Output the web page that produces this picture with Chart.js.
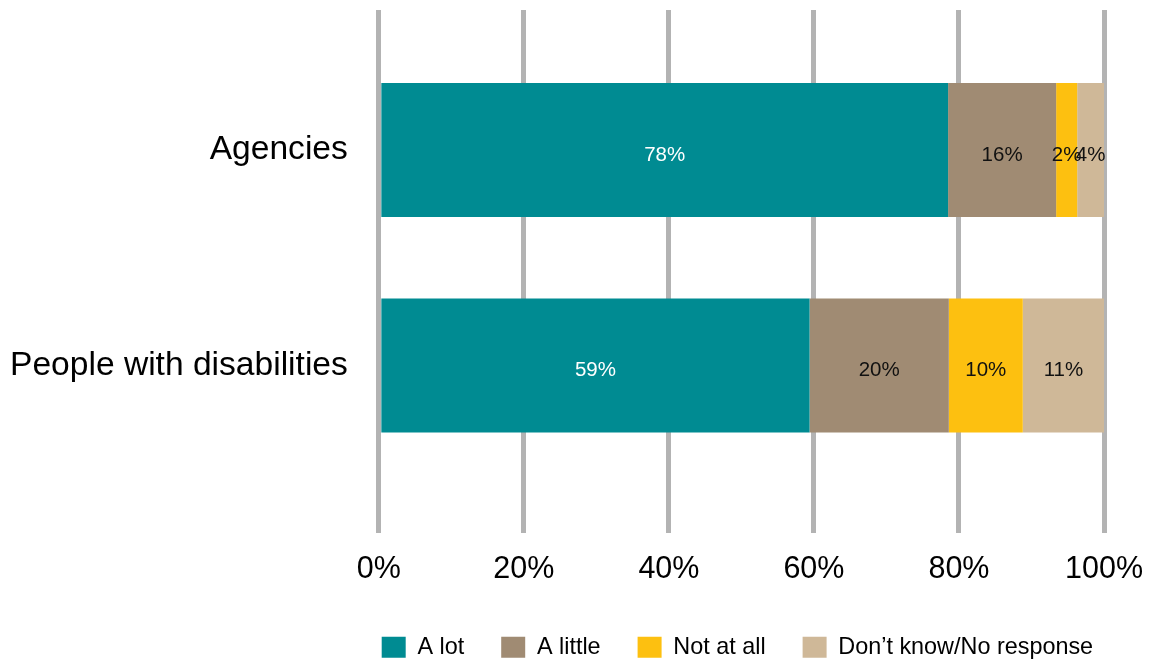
<!DOCTYPE html>
<html>
<head>
<meta charset="utf-8">
<script src="https://cdn.jsdelivr.net/npm/chart.js@4/dist/chart.umd.min.js"></script>
<style>
  body { margin: 0; background: #fff; }
</style>
</head>
<body>
<canvas id="chart" width="1156" height="659"></canvas>
<script>
'use strict';

// ***** DATA *****
const categories = ['Agencies', 'People with disabilities'];
const seriesNames = ['A lot', 'A little', 'Not at all', 'Don\u2019t know/No response'];

// bar lengths (percent)
const aLot = [78.5, 59.4];
const aLittle = [14.9, 19.2];
const notAtAll = [2.9, 10.2];
const dontKnow = [3.7, 11.2];

// printed labels
const aLotLabels = ['78%', '59%'];
const aLittleLabels = ['16%', '20%'];
const notAtAllLabels = ['2%', '10%'];
const dontKnowLabels = ['4%', '11%'];

const xTicks = [0, 20, 40, 60, 80, 100];

// ***** STYLE *****
const FONT = '"Liberation Sans", Arial, Helvetica, sans-serif';
const colors = ['#008b92', '#a08b73', '#fdc010', '#cfb898'];
const labelColors = ['#ffffff', '#111111', '#111111', '#111111'];

const seriesValues = [aLot, aLittle, notAtAll, dontKnow];
const seriesLabels = [aLotLabels, aLittleLabels, notAtAllLabels, dontKnowLabels];

let datasets = [];
for (let i = 0; i < seriesNames.length; i++) {
  datasets.push({
    label: seriesNames[i],
    data: seriesValues[i].map((v, j) => ({ x: v, y: j })),
    backgroundColor: colors[i],
    borderWidth: 0,
    barPercentage: 0.622,
    categoryPercentage: 1
  });
}

// draws the value text in the middle of each bar piece
const barText = {
  id: 'barText',
  afterDatasetsDraw(chart) {
    const ctx = chart.ctx;
    ctx.save();
    ctx.font = '20.5px ' + FONT;
    ctx.textAlign = 'center';
    ctx.textBaseline = 'middle';
    chart.data.datasets.forEach((ds, i) => {
      const meta = chart.getDatasetMeta(i);
      meta.data.forEach((bar, j) => {
        const p = bar.getCenterPoint();
        ctx.fillStyle = labelColors[i];
        ctx.fillText(seriesLabels[i][j], p.x, p.y + 5);
      });
    });
    ctx.restore();
  }
};

// legend is centred under the plot area, not the whole canvas
const legendUnderPlot = {
  id: 'legendUnderPlot',
  afterLayout(chart) {
    const legend = chart.legend;
    const shift = (chart.chartArea.left + chart.chartArea.right) / 2 - 4 - (legend.left + legend.right) / 2;
    legend.left += shift;
    legend.right += shift;
  }
};

const ctx = document.getElementById('chart').getContext('2d');
let myChart = new Chart(ctx, { //eslint-disable-line
  type: 'bar',
  data: { datasets: datasets },
  plugins: [barText, legendUnderPlot],
  options: {
    indexAxis: 'y',
    responsive: false,
    animation: false,
    layout: { padding: { top: 10, left: 10, right: 52, bottom: -10 } },
    scales: {
      x: {
        type: 'linear',
        stacked: true,
        min: 0,
        max: 100,
        afterBuildTicks: (axis) => { axis.ticks = xTicks.map(v => ({ value: v })); },
        afterFit: (axis) => {
          axis.height -= 7;
          axis.paddingLeft = 0;
          axis.paddingRight = 0;
        },
        ticks: {
          callback: (v) => v + '%',
          color: '#000',
          font: { family: FONT, size: 30.5 },
          padding: 18,
          maxRotation: 0
        },
        grid: { color: '#b3b3b3', lineWidth: 5, drawTicks: false },
        border: { display: false }
      },
      y: {
        type: 'linear',
        stacked: true,
        reverse: true,
        offset: false,
        min: -0.65,
        max: 1.777,
        afterBuildTicks: (axis) => { axis.ticks = categories.map((c, i) => ({ value: i })); },
        afterFit: (axis) => {
          axis.paddingTop = 0;
          axis.paddingBottom = 0;
          axis.width -= axis.options.ticks.padding;
        },
        ticks: {
          callback: (v) => categories[v],
          color: '#000',
          font: { family: FONT, size: 33.6 },
          padding: 31
        },
        grid: { display: false, drawTicks: false, offset: false },
        border: { display: false }
      }
    },
    plugins: {
      legend: {
        position: 'bottom',
        labels: {
          color: '#000',
          font: { family: FONT, size: 23.4 },
          boxWidth: 24,
          boxHeight: 21,
          padding: 37
        }
      },
      tooltip: { enabled: false }
    }
  }
});
</script>
</body>
</html>
